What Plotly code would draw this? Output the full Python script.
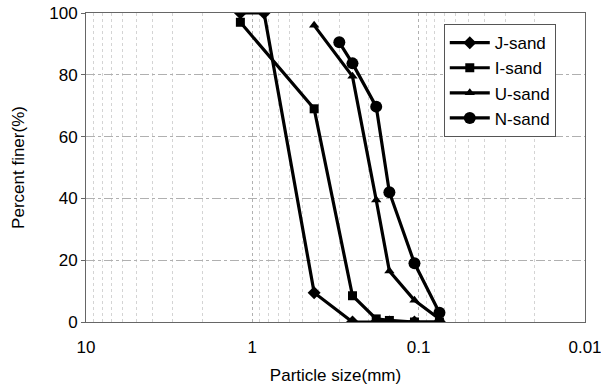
import plotly.graph_objects as go

# Particle sizes (mm) and percent finer
j_size = [1.18, 0.85, 0.425, 0.25, 0.18, 0.15, 0.106, 0.075]
j_finer = [100, 100, 9.5, 0, 0, 0, 0, 0]

i_size = [1.18, 0.425, 0.25, 0.18, 0.15, 0.106, 0.075]
i_finer = [97, 69, 8.5, 1, 0.5, 0, 0]

u_size = [0.425, 0.25, 0.18, 0.15, 0.106, 0.075]
u_finer = [96, 79.5, 39.5, 16.5, 7, 1]

n_size = [0.3, 0.25, 0.18, 0.15, 0.106, 0.075]
n_finer = [90.5, 83.7, 69.7, 42, 19, 3]

x_ticks = [10, 1, 0.1, 0.01]
x_tick_labels = ["10", "1", "0.1", "0.01"]
y_ticks = [0, 20, 40, 60, 80, 100]

series = [
    ("J-sand", j_size, j_finer, "diamond", 10),
    ("I-sand", i_size, i_finer, "square", 9),
    ("U-sand", u_size, u_finer, "triangle-up", 9),
    ("N-sand", n_size, n_finer, "circle", 12),
]

fig = go.Figure()
for name, xs, ys, sym, sz in series:
    fig.add_trace(go.Scatter(
        x=xs, y=ys, name=name, mode="lines+markers",
        line=dict(color="black", width=3.2),
        marker=dict(symbol=sym, size=sz, color="black"),
    ))

fam = "Liberation Sans, Arial, sans-serif"
tick_font = dict(family=fam, size=17, color="black")
title_font = dict(family=fam, size=17, color="black")

fig.update_layout(
    width=601, height=387,
    margin=dict(l=86, r=16, t=13, b=65, autoexpand=False),
    paper_bgcolor="white", plot_bgcolor="white",
    font=dict(family=fam, size=15, color="black"),
    showlegend=True,
    legend=dict(
        x=0.717, y=0.964, xanchor="left", yanchor="top",
        bordercolor="#555555", borderwidth=1, bgcolor="white",
        font=dict(family=fam, size=17, color="black"),
        tracegroupgap=0, itemwidth=40,
    ),
    xaxis=dict(
        type="log", range=[1, -2],
        tickvals=x_ticks, ticktext=x_tick_labels,
        showgrid=True, gridcolor="#b0b0b0", griddash="dot", gridwidth=1,
        minor=dict(dtick="D1", showgrid=True, gridcolor="#d4d4d4", griddash="dot"),
        showline=True, linecolor="#666666", linewidth=1, mirror=True,
        ticks="", zeroline=False,
        ticklabelstandoff=10,
        ticklabeloverflow="allow",
        title=dict(text="Particle size(mm)", standoff=12, font=title_font),
        tickfont=tick_font,
    ),
    yaxis=dict(
        range=[0, 100], tickvals=y_ticks,
        showgrid=True, gridcolor="#b0b0b0", griddash="dashdot", gridwidth=1,
        showline=True, linecolor="#666666", linewidth=1, mirror=True,
        ticks="outside", ticklen=4, tickcolor="#666666",
        zeroline=False,
        ticklabeloverflow="allow",
        title=dict(text="Percent finer(%)", standoff=20, font=title_font),
        tickfont=tick_font,
    ),
)

fig.write_html("out.html")
